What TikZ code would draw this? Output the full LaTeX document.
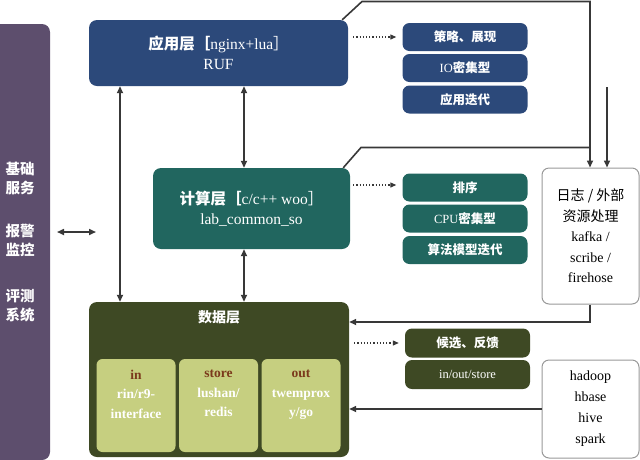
\documentclass[tikz,border=0pt]{standalone}
\usepackage{fontspec}
\setmainfont{Liberation Serif}
\newfontfamily\cjk{Noto Sans CJK SC}
\newcommand{\zh}[1]{{\cjk #1}}
\usetikzlibrary{arrows.meta}
\definecolor{cpurple}{HTML}{5d4e6d}
\definecolor{cblue}{HTML}{2c497a}
\definecolor{cteal}{HTML}{21665f}
\definecolor{colive}{HTML}{3e4924}
\definecolor{clight}{HTML}{c6cf80}
\definecolor{cbrown}{HTML}{7b3a1c}
\definecolor{cline}{HTML}{383838}

\begin{document}
\begin{tikzpicture}[x=1pt,y=-1pt,
  layer/.style={rounded corners=8pt,minimum width=#1,text=white,
    font=\fontsize{15.5}{20}\selectfont,align=center,inner sep=0pt},
  tag/.style={rounded corners=7pt,minimum width=125pt,minimum height=28pt,
    text=white,font=\fontsize{12.5}{14}\selectfont,inner sep=0pt},
  side/.style={draw=gray!80,line width=1pt,fill=white,rounded corners=7pt,
    minimum width=97pt,align=center,font=\fontsize{14}{20.5}\selectfont,inner sep=0pt},
  sub/.style={fill=clight,rounded corners=6pt,minimum width=79pt,minimum height=93pt},
  subtxt/.style={anchor=north,align=center,text=white,inner sep=0pt,
    font=\fontsize{13.5}{19.5}\selectfont\bfseries},
  link/.style={draw=cline,line width=1.6pt},
  arr/.style={link,-{Triangle[length=7pt,width=6pt]}},
  biarr/.style={link,{Triangle[length=7pt,width=6pt]}-{Triangle[length=7pt,width=6pt]}},
  dots/.style={draw=cline,line width=1.2pt,dotted,-{Triangle[length=6pt,width=5pt]}}]
  \useasboundingbox (0,0) rectangle (640,459);
  % left column
  \node[fill=cpurple,rounded corners=8pt,minimum width=60pt,minimum height=436pt,
    text=white,align=center,font=\fontsize{14.5}{19.5}\selectfont\bfseries\cjk]
    (base) at (20,242) {基础\\服务\\[23pt]报警\\监控\\[26pt]评测\\系统};
  % layers
  \node[layer=259pt,fill=cblue,minimum height=66pt] (app) at (218.5,53)
    {\zh{\bfseries 应用层［}nginx+lua\zh{］}\\RUF};
  \node[layer=197pt,fill=cteal,minimum height=81pt] (comp) at (251.5,208.5)
    {\zh{\bfseries 计算层［}c/c++ woo\zh{］}\\lab\_common\_so};
  \node[layer=260pt,fill=colive,minimum height=155pt] (data) at (219,379.5) {};
  \node[text=white,font=\fontsize{14}{16}\selectfont\bfseries\cjk] (dtitle) at (219,317) {数据层};
  \node[sub] (sin) at (136,405.5) {};
  \node[sub] (sstore) at (218.5,405.5) {};
  \node[sub] (sout) at (301,405.5) {};
  \node[subtxt] (tin) at ([yshift=-11pt]sin.north) {\textcolor{cbrown}{in}\\rin/r9-\\interface};
  \node[subtxt] (tstore) at ([yshift=-11pt]sstore.north) {\textcolor{cbrown}{store}\\lushan/\\redis};
  \node[subtxt] (tout) at ([yshift=-11pt]sout.north) {\textcolor{cbrown}{out}\\twemprox\\y/go};
  % tags
  \node[tag,fill=cblue] (a1) at (465,37) {\zh{\bfseries 策略、展现}};
  \node[tag,fill=cblue] (a2) at (465,68) {IO\zh{\bfseries 密集型}};
  \node[tag,fill=cblue] (a3) at (465,99.5) {\zh{\bfseries 应用迭代}};
  \node[tag,fill=cteal] (c1) at (465,187.5) {\zh{\bfseries 排序}};
  \node[tag,fill=cteal] (c2) at (465,218.5) {CPU\zh{\bfseries 密集型}};
  \node[tag,fill=cteal] (c3) at (465,250) {\zh{\bfseries 算法模型迭代}};
  \node[tag,fill=colive,minimum height=29pt] (d1) at (467.5,343) {\zh{\bfseries 候选、反馈}};
  \node[tag,fill=colive,minimum height=29pt] (d2) at (467.5,374.5) {in/out/store};
  % outside systems
  \node[side,minimum height=136pt] (logs) at (590.5,236)
    {\zh{日志 / 外部}\\\zh{资源处理}\\kafka /\\scribe /\\firehose};
  \node[side,minimum height=98pt,font=\fontsize{14}{21}\selectfont] (hdp) at (590.5,409)
    {hadoop\\hbase\\hive\\spark};
  % connectors
  \coordinate (xl) at (120,0);
  \coordinate (xm) at (244,0);
  \coordinate (xr) at (590,0);
  \coordinate (ex) at (607,87);
  \coordinate (bl) at (57,232);
  \coordinate (br) at (96,232);
  \draw[biarr] (bl) -- (br);
  \draw[biarr] (app.south -| xl) -- (data.north -| xl);
  \draw[biarr] (app.south -| xm) -- (comp.north -| xm);
  \draw[biarr] (comp.south -| xm) -- (data.north -| xm);
  \draw[arr] ([xshift=-6pt]app.north east) -- (362,1.5) -- (590,1.5) -- (logs.north -| xr);
  \draw[link] ([xshift=-7pt]comp.north east) -- (361,147.5) -- (590,147.5);
  \draw[arr] (ex) -- (logs.north -| ex);
  \draw[arr] (logs.south -| xr) -- (590,322) -- (data.east |- 0,322);
  \draw[arr] (hdp.west |- 0,409) -- (data.east |- 0,409);
  \draw[dots] ([xshift=5pt]app.east |- a1) -- ([xshift=-6pt]a1.west);
  \draw[dots] ([xshift=3pt]comp.east |- 0,185) -- ([xshift=-6pt]c1.west |- 0,185);
  \draw[dots] ([xshift=5pt]data.east |- d1) -- ([xshift=-6pt]d1.west);
\end{tikzpicture}
\end{document}
